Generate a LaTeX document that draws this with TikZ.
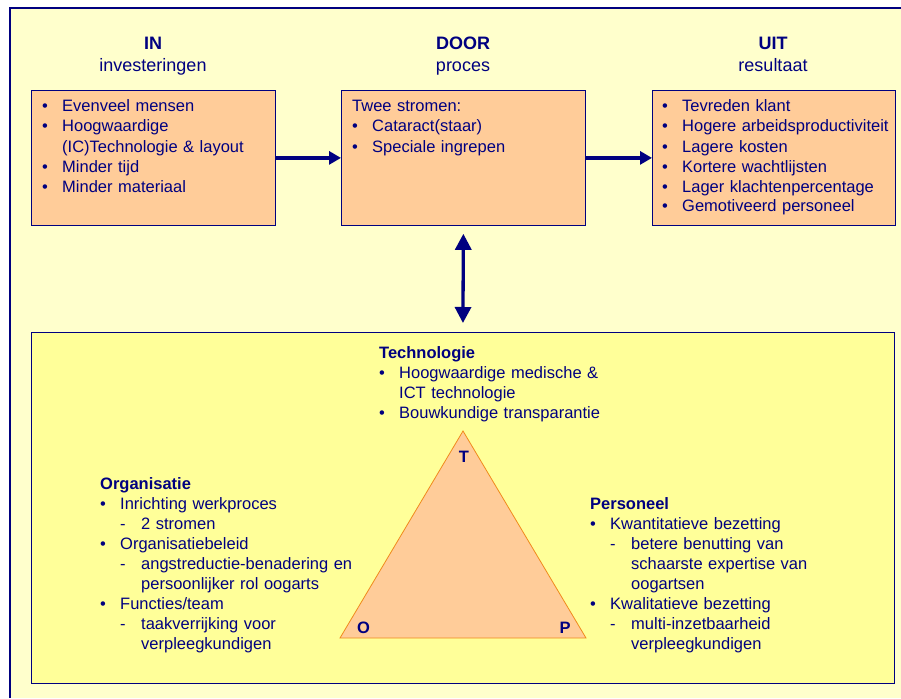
\documentclass[tikz,border=0pt]{standalone}
\usepackage{fontspec}
\setmainfont{Liberation Sans}
\usetikzlibrary{arrows.meta,positioning}

\definecolor{pagebg}{HTML}{FFFFCC}
\definecolor{boxfill}{HTML}{FFCC99}
\definecolor{tpsfill}{HTML}{FFFF99}
\definecolor{darknavy}{HTML}{000080}
\definecolor{triline}{HTML}{F08A1C}

% list lines: bullet, dash and continuation
\newcommand\lbul[1]{\makebox[20pt][l]{\textbullet}#1}
\newcommand\ldash[1]{\hspace*{20pt}\makebox[21pt][l]{-}#1}
\newcommand\lind[1]{\hspace*{20pt}#1}
\newcommand\lindd[1]{\hspace*{41pt}#1}

\begin{document}
\begin{tikzpicture}[x=1pt,y=-1pt,
	box/.style={draw=darknavy,line width=0.8pt,fill=boxfill,anchor=north west,
		minimum width=244pt,minimum height=135pt,inner sep=0pt},
	list/.style={anchor=base west,align=left,inner sep=0pt,text=darknavy,
		font=\fontsize{16.5}{20}\selectfont},
	head/.style={anchor=base,align=center,inner sep=0pt,text=darknavy,text width=200pt,
		font=\fontsize{18}{22}\selectfont},
	corner/.style={anchor=base,inner sep=0pt,text=darknavy,
		font=\fontsize{16.5}{20}\selectfont\bfseries},
	flow/.style={draw=darknavy,line width=3.3pt,-{Triangle[length=12pt,width=13pt]}},
	link/.style={draw=darknavy,line width=3.3pt,
		{Triangle[length=16pt,width=16pt]}-{Triangle[length=16pt,width=16pt]}}]
	
	\useasboundingbox (0,0) rectangle (901,698);
	\fill[pagebg] (10,8) rectangle (901,698);
	\draw[darknavy,line width=1.5pt] (10,698) -- (10,8) -- (901,8);
	
	% in / door / uit
	\node[box] (inbox) at (31,90) {};
	\node[box] (doorbox) at (341,90) {};
	\node[box,minimum width=243pt] (uitbox) at (652,90) {};
	
	\node[head] (inhead) at (153,50) {\textbf{IN}\\investeringen};
	\node[head] (doorhead) at (463,50) {\textbf{DOOR}\\proces};
	\node[head] (uithead) at (773,50) {\textbf{UIT}\\resultaat};
	
	\node[list,text width=232pt] (inlist) at (42,112) {\lbul{Evenveel mensen}\\
		\lbul{Hoogwaardige}\\
		\lind{(IC)Technologie \& layout}\\
		\lbul{Minder tijd}\\
		\lbul{Minder materiaal}};
	\node[list,text width=232pt] (doorlist) at (352,112) {Twee stromen:\\
		\lbul{Cataract(staar)}\\
		\lbul{Speciale ingrepen}};
	\node[list,text width=240pt] (uitlist) at (662,112) {\lbul{Tevreden klant}\\
		\lbul{Hogere arbeidsproductiviteit}\\
		\lbul{Lagere kosten}\\
		\lbul{Kortere wachtlijsten}\\
		\lbul{Lager klachtenpercentage}\\
		\lbul{Gemotiveerd personeel}};
	
	% T-O-P box
	\node[box,fill=tpsfill,minimum width=863pt,minimum height=351pt] (tpsbox) at (31,332) {};
	
	\path[flow] (inbox) -- (doorbox);
	\path[flow] (doorbox) -- (uitbox);
	\path[link,shorten <=8pt,shorten >=9pt] (doorbox.south) -- (tpsbox.north);
	
	\coordinate (tv) at (463,431);
	\coordinate (ov) at (340,638);
	\coordinate (pv) at (586,638);
	\draw[triline,fill=boxfill,line width=0.8pt] (tv) -- (pv) -- (ov) -- cycle;
	\node[corner] (tlab) at (464,462) {T};
	\node[corner] (olab) at (363.5,633) {O};
	\node[corner] (plab) at (565,633) {P};
	
	\node[list,text width=260pt] (techlist) at (379,358) {\textbf{Technologie}\\
		\lbul{Hoogwaardige medische \&}\\
		\lind{ICT technologie}\\
		\lbul{Bouwkundige transparantie}};
	\node[list,text width=300pt] (orglist) at (100,489) {\textbf{Organisatie}\\
		\lbul{Inrichting werkproces}\\
		\ldash{2 stromen}\\
		\lbul{Organisatiebeleid}\\
		\ldash{angstreductie-benadering en}\\
		\lindd{persoonlijker rol oogarts}\\
		\lbul{Functies/team}\\
		\ldash{taakverrijking voor}\\
		\lindd{verpleegkundigen}};
	\node[list,text width=300pt] (perslist) at (590,509) {\textbf{Personeel}\\
		\lbul{Kwantitatieve bezetting}\\
		\ldash{betere benutting van}\\
		\lindd{schaarste expertise van}\\
		\lindd{oogartsen}\\
		\lbul{Kwalitatieve bezetting}\\
		\ldash{multi-inzetbaarheid}\\
		\lindd{verpleegkundigen}};
\end{tikzpicture}
\end{document}
